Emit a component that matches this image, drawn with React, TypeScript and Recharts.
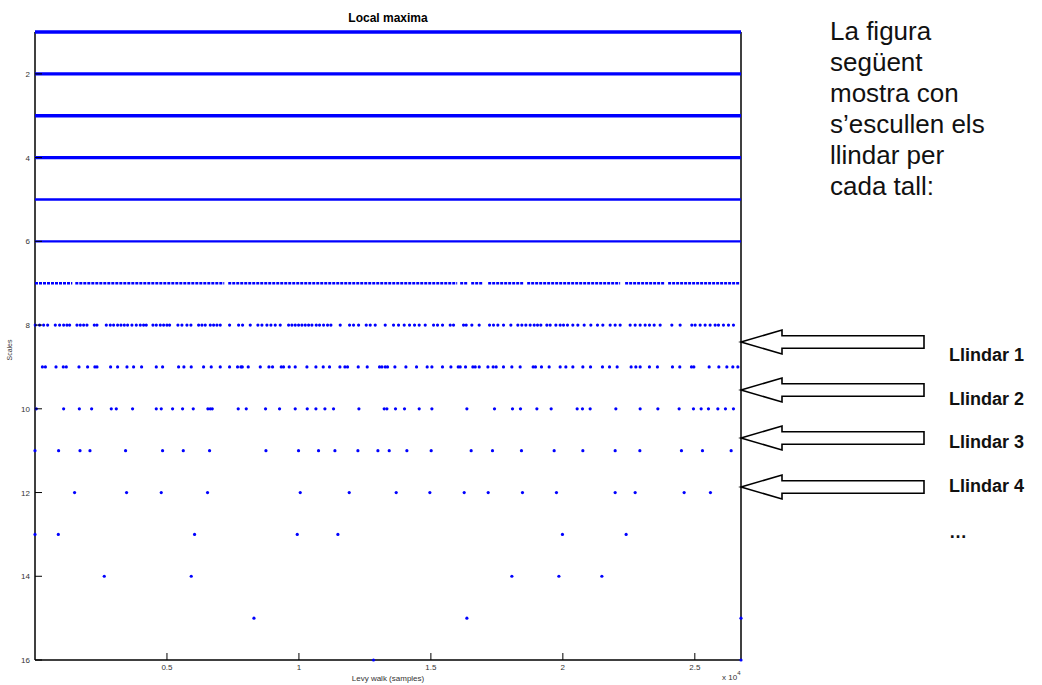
import React from 'react'
import { ScatterChart, Scatter, XAxis, YAxis } from 'recharts'

// x positions (samples) of the local maxima
const X_MAX = 26750
const solidRows = [1, 2, 3, 4, 5, 6]
const row7Runs = [
  [0, 1413], [1527, 7171], [7322, 15997], [16110, 16413], [16527, 16981],
  [17171, 18496], [18648, 22171], [22360, 23875], [23989, 26716],
]
const row8 = [
  10, 176, 327, 479, 769, 933, 1085, 1211, 1312, 1590, 1716, 1842, 1969, 2246, 2347, 2701,
  2852, 2979, 3130, 3257, 3383, 3509, 3673, 3837, 3989, 4115, 4216, 4469, 4595, 4747, 4873,
  4999, 5100, 5416, 5567, 5757, 5908, 6199, 6325, 6451, 6641, 6767, 6893, 7019, 7373, 7714,
  7865, 8156, 8446, 8598, 8787, 8939, 9103, 9292, 9608, 9734, 9860, 9987, 10113, 10239, 10366,
  10492, 10656, 10782, 10934, 11085, 11212, 11565, 11919, 12070, 12260, 12550, 12702, 12891,
  13270, 13585, 13774, 13989, 14191, 14380, 14557, 14785, 15101, 15252, 15441, 15732, 15858,
  16237, 16338, 16552, 16830, 17222, 17373, 17537, 17752, 18030, 18295, 18446, 18598, 18762,
  18914, 19040, 19166, 19394, 19520, 19735, 19899, 20025, 20176, 20378, 20568, 20808, 21060,
  21313, 21515, 21793, 21982, 22171, 22550, 22740, 22929, 23118, 23283, 23460, 23687, 24129,
  24444, 24886, 25013, 25202, 25391, 25580, 25770, 25896, 26085, 26275, 26464,
]
const row9 = [
  280, 394, 796, 1072, 1186, 1667, 1992, 2269, 2349, 2864, 3129, 3485, 3735, 4038, 4595, 4834,
  5440, 5642, 5920, 6387, 6678, 7019, 7372, 7675, 7803, 7853, 8080, 8535, 8864, 9001, 9330,
  9418, 9633, 9860, 10303, 10644, 10921, 11160, 11554, 11743, 11842, 12247, 12588, 13054,
  13145, 13270, 13357, 13636, 14053, 14456, 14860, 15038, 15440, 15758, 16035, 16111, 16313,
  16590, 16679, 16831, 17160, 17360, 17474, 17751, 18068, 18383, 18875, 18963, 19190, 19481,
  19898, 20114, 20379, 20758, 21048, 21502, 21768, 22057, 22587, 22765, 22929, 23281, 23584,
  24153, 24431, 24873, 24963, 25543, 25910, 26213, 26440, 26630,
]
const row10 = [
  50, 1085, 1680, 2145, 2890, 3080, 3697, 4595, 4784, 5212, 5591, 5996, 6550, 6640, 6716,
  7700, 8004, 8735, 9266, 9860, 10315, 10644, 10985, 11311, 12273, 13231, 13333, 13659, 14000,
  14557, 15038, 16364, 17410, 18092, 18395, 19016, 19557, 20542, 20743, 21035, 22008, 22929,
  23600, 24406, 24949, 25240, 25517, 25873, 26161, 26464,
]
const row11 = [
  0, 894, 1705, 2083, 3432, 4834, 5618, 6614, 8750, 9985, 10743, 11364, 12235, 12993, 13421,
  14090, 15011, 16526, 17334, 18432, 19671, 20758, 21982, 22918, 24494, 25290, 26377,
]
const row12 = [
  1500, 3470, 4784, 6538, 10050, 11906, 13686, 14961, 16262, 17171, 18470, 19758, 21982,
  22740, 24596, 25592,
]
const row13 = [0, 883, 6046, 9936, 11477, 19985, 22398]
const row14 = [2625, 5920, 18068, 19850, 21478]
const row15 = [8296, 16364, 26750]
const row16 = [12826, 26750]

const xTicks = [5000, 10000, 15000, 20000, 25000]
const xTickLabels = ['0.5', '1', '1.5', '2', '2.5']
const yTicks = [2, 4, 6, 8, 10, 12, 14, 16]

const thresholds = ['Llindar 1', 'Llindar 2', 'Llindar 3', 'Llindar 4']

const dotRows: [number, number[]][] = [
  [8, row8], [9, row9], [10, row10], [11, row11], [12, row12],
  [13, row13], [14, row14], [15, row15], [16, row16],
]

const BLUE = '#0000ff'
const FONT = '"Liberation Sans", Arial, sans-serif'
const TICK_LEN = 7
const axisLine = { stroke: '#000', strokeWidth: 1.5 }

const Dot = (p: any) => <circle cx={p.cx} cy={p.cy} r={1.6} fill={BLUE} />
const NoDot = () => <g />

// MATLAB-style inward ticks: tickSize 0, tickMargin 4, so (x, y) sits 4px outside the axis
const LeftTick = ({ x, y, payload }: any) => (
  <g>
    <line x1={x + 4} x2={x + 4 + TICK_LEN} y1={y} y2={y} stroke="#000" />
    <text x={x - 1} y={y + 3} textAnchor="end" fontSize={8} fill="#333" fontFamily={FONT}>{payload.value}</text>
  </g>
)
const BottomTick = ({ x, y, payload }: any) => (
  <g>
    <line x1={x} x2={x} y1={y - 4} y2={y - 4 - TICK_LEN} stroke="#000" />
    <text x={x} y={y + 6} textAnchor="middle" fontSize={8} fill="#333" fontFamily={FONT}>
      {xTickLabels[xTicks.indexOf(payload.value)]}
    </text>
  </g>
)
const TopTick = ({ x, y }: any) => <line x1={x} x2={x} y1={y + 4} y2={y + 4 + TICK_LEN} stroke="#000" />
const RightTick = ({ x, y }: any) => <line x1={x - 4} x2={x - 4 - TICK_LEN} y1={y} y2={y} stroke="#000" />

// hollow left-pointing arrow, tip at (x, y)
function Arrow({ x, y }: { x: number; y: number }) {
  const head = 41
  const len = 183
  const hh = 12
  const sh = 6.3
  const d = `M${x},${y} L${x + head},${y - hh} L${x + head},${y - sh} L${x + len},${y - sh} L${x + len},${y + sh} L${x + head},${y + sh} L${x + head},${y + hh} Z`
  return <path d={d} fill="#fff" stroke="#000" strokeWidth={1.6} strokeLinejoin="miter" />
}

export default function App() {
  return (
    <div style={{ position: 'absolute', left: 0, top: 0, width: 1042, height: 685, background: '#fff', fontFamily: FONT, overflow: 'hidden' }}>
      <ScatterChart width={1042} height={685} margin={{ top: 31, right: 300, bottom: 0, left: 0 }}>
        <XAxis
          xAxisId="b" dataKey="x" type="number" domain={[0, X_MAX]} ticks={xTicks}
          height={25} tickSize={0} tickMargin={4} tickLine={false} axisLine={axisLine} tick={BottomTick}
        />
        <XAxis
          xAxisId="t" orientation="top" dataKey="x" type="number" domain={[0, X_MAX]} ticks={xTicks}
          height={1} tickSize={0} tickMargin={4} tickLine={false} axisLine={axisLine} tick={TopTick}
        />
        <YAxis
          yAxisId="l" dataKey="y" type="number" domain={[1, 16]} reversed ticks={yTicks}
          width={35} tickSize={0} tickMargin={4} tickLine={false} axisLine={axisLine} tick={LeftTick}
        />
        <YAxis
          yAxisId="r" orientation="right" dataKey="y" type="number" domain={[1, 16]} reversed ticks={yTicks}
          width={1} tickSize={0} tickMargin={4} tickLine={false} axisLine={axisLine} tick={RightTick}
        />
        {solidRows.map((s) => (
          <Scatter
            key={'s' + s} xAxisId="b" yAxisId="l"
            data={[{ x: 0, y: s }, { x: X_MAX, y: s }]}
            line={{ stroke: BLUE, strokeWidth: s <= 4 ? 3.4 : 2.4 }}
            shape={NoDot} isAnimationActive={false}
          />
        ))}
        {row7Runs.map(([a, b], i) => (
          <Scatter
            key={'r7' + i} xAxisId="b" yAxisId="l"
            data={[{ x: a, y: 7 }, { x: b, y: 7 }]}
            line={{ stroke: BLUE, strokeWidth: 2.6, strokeDasharray: '3 1' }}
            shape={NoDot} isAnimationActive={false}
          />
        ))}
        {dotRows.map(([s, xs]) => (
          <Scatter
            key={'d' + s} xAxisId="b" yAxisId="l"
            data={xs.map((x) => ({ x, y: s }))}
            shape={Dot} isAnimationActive={false}
          />
        ))}
      </ScatterChart>

      <div style={{ position: 'absolute', left: 288, width: 200, top: 11, textAlign: 'center', fontSize: 12, fontWeight: 'bold', color: '#000' }}>
        Local maxima
      </div>
      <div style={{ position: 'absolute', left: 9, top: 350, transform: 'translate(-50%, -50%) rotate(-90deg)', fontSize: 7, color: '#333', whiteSpace: 'nowrap' }}>
        Scales
      </div>
      <div style={{ position: 'absolute', left: 288, width: 200, top: 674, textAlign: 'center', fontSize: 8, color: '#333' }}>
        Levy walk (samples)
      </div>
      <div style={{ position: 'absolute', left: 722, top: 673, fontSize: 8, lineHeight: '10px', color: '#333', whiteSpace: 'nowrap' }}>
        x 10<span style={{ position: 'relative', top: -5, fontSize: 6 }}>4</span>
      </div>

      <div style={{ position: 'absolute', left: 830, top: 16, fontSize: 26, lineHeight: '31px', color: '#111' }}>
        La figura<br />següent<br />mostra con<br />s’escullen els<br />llindar per<br />cada tall:
      </div>

      <svg width={1042} height={685} style={{ position: 'absolute', left: 0, top: 0, pointerEvents: 'none' }}>
        {[342, 390, 438, 487].map((y) => <Arrow key={y} x={741} y={y} />)}
      </svg>
      {thresholds.map((t, i) => (
        <div key={t} style={{ position: 'absolute', left: 949, top: 345 + i * 43.5, fontSize: 18, fontWeight: 'bold', color: '#111', whiteSpace: 'nowrap' }}>
          {t}
        </div>
      ))}
      <div style={{ position: 'absolute', left: 949, top: 522, fontSize: 18, fontWeight: 'bold', color: '#111' }}>…</div>
    </div>
  )
}
